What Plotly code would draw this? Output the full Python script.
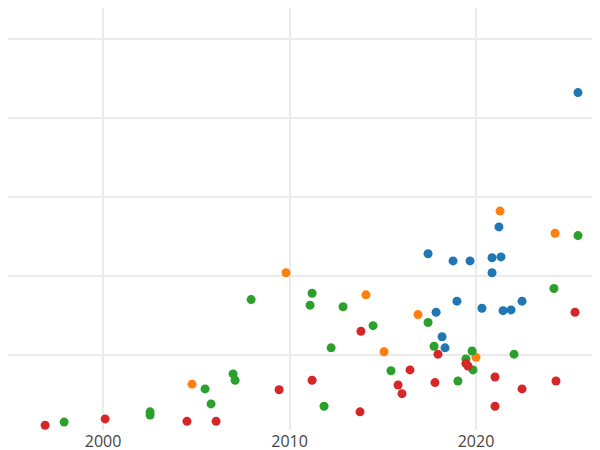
import plotly.graph_objects as go

blue_x = [2025.47, 2021.23, 2017.43, 2020.86, 2021.34, 2018.77, 2019.68, 2020.86, 2018.98, 2022.47, 2020.32, 2021.45, 2021.88, 2017.86, 2018.18, 2018.34]
blue_y = [4.32, 2.62, 2.28, 2.23, 2.24, 2.19, 2.19, 2.04, 1.68, 1.68, 1.59, 1.56, 1.57, 1.54, 1.23, 1.09]

orange_x = [2021.29, 2024.24, 2009.81, 2014.10, 2016.89, 2015.07, 2020.0, 2004.77]
orange_y = [2.82, 2.54, 2.04, 1.76, 1.51, 1.04, 0.97, 0.63]

green_x = [2025.47, 2007.94, 2011.21, 2011.10, 2012.87, 2024.18, 2014.48, 2017.43, 2012.23, 2017.75, 2019.79, 2022.04, 2019.46, 2019.84, 2015.44, 2006.97, 2007.08, 2019.03, 2005.47, 2002.52, 2002.52, 2005.79, 2011.85, 1997.91]
green_y = [2.51, 1.70, 1.78, 1.63, 1.61, 1.84, 1.37, 1.41, 1.09, 1.11, 1.05, 1.01, 0.95, 0.81, 0.80, 0.76, 0.68, 0.67, 0.57, 0.28, 0.24, 0.38, 0.35, 0.15]

red_x = [2013.83, 2025.31, 2017.96, 2016.46, 2019.46, 2019.57, 2011.21, 2021.02, 2017.80, 2024.29, 2015.82, 2016.03, 2009.44, 2022.47, 2013.78, 2021.02, 2000.11, 2004.50, 2006.06, 1996.89]
red_y = [1.30, 1.54, 1.01, 0.81, 0.89, 0.86, 0.68, 0.72, 0.65, 0.67, 0.62, 0.51, 0.56, 0.57, 0.28, 0.35, 0.19, 0.16, 0.16, 0.11]

fig = go.Figure()
for xs, ys, c in [(blue_x, blue_y, "#1f77b4"), (orange_x, orange_y, "#ff7f0e"),
                  (green_x, green_y, "#2ca02c"), (red_x, red_y, "#d62728")]:
    fig.add_trace(go.Scatter(x=xs, y=ys, mode="markers",
                             marker=dict(color=c, size=9), showlegend=False))

fig.update_layout(
    width=600, height=450, template="plotly_white",
    margin=dict(l=0, r=0, t=0, b=28, autoexpand=False),
    plot_bgcolor="white", paper_bgcolor="white",
)
fig.update_xaxes(range=[1994.9, 2027.08], dtick=10, tickfont=dict(size=16, color="#444"),
                 gridcolor="#ebebeb", gridwidth=1.5, zeroline=False, showline=False,
                 automargin=False)
fig.update_yaxes(range=[0.05, 5.39], dtick=1, showticklabels=False, automargin=False,
                 gridcolor="#ebebeb", gridwidth=1.5, zeroline=False)
fig.write_html("out.html")
